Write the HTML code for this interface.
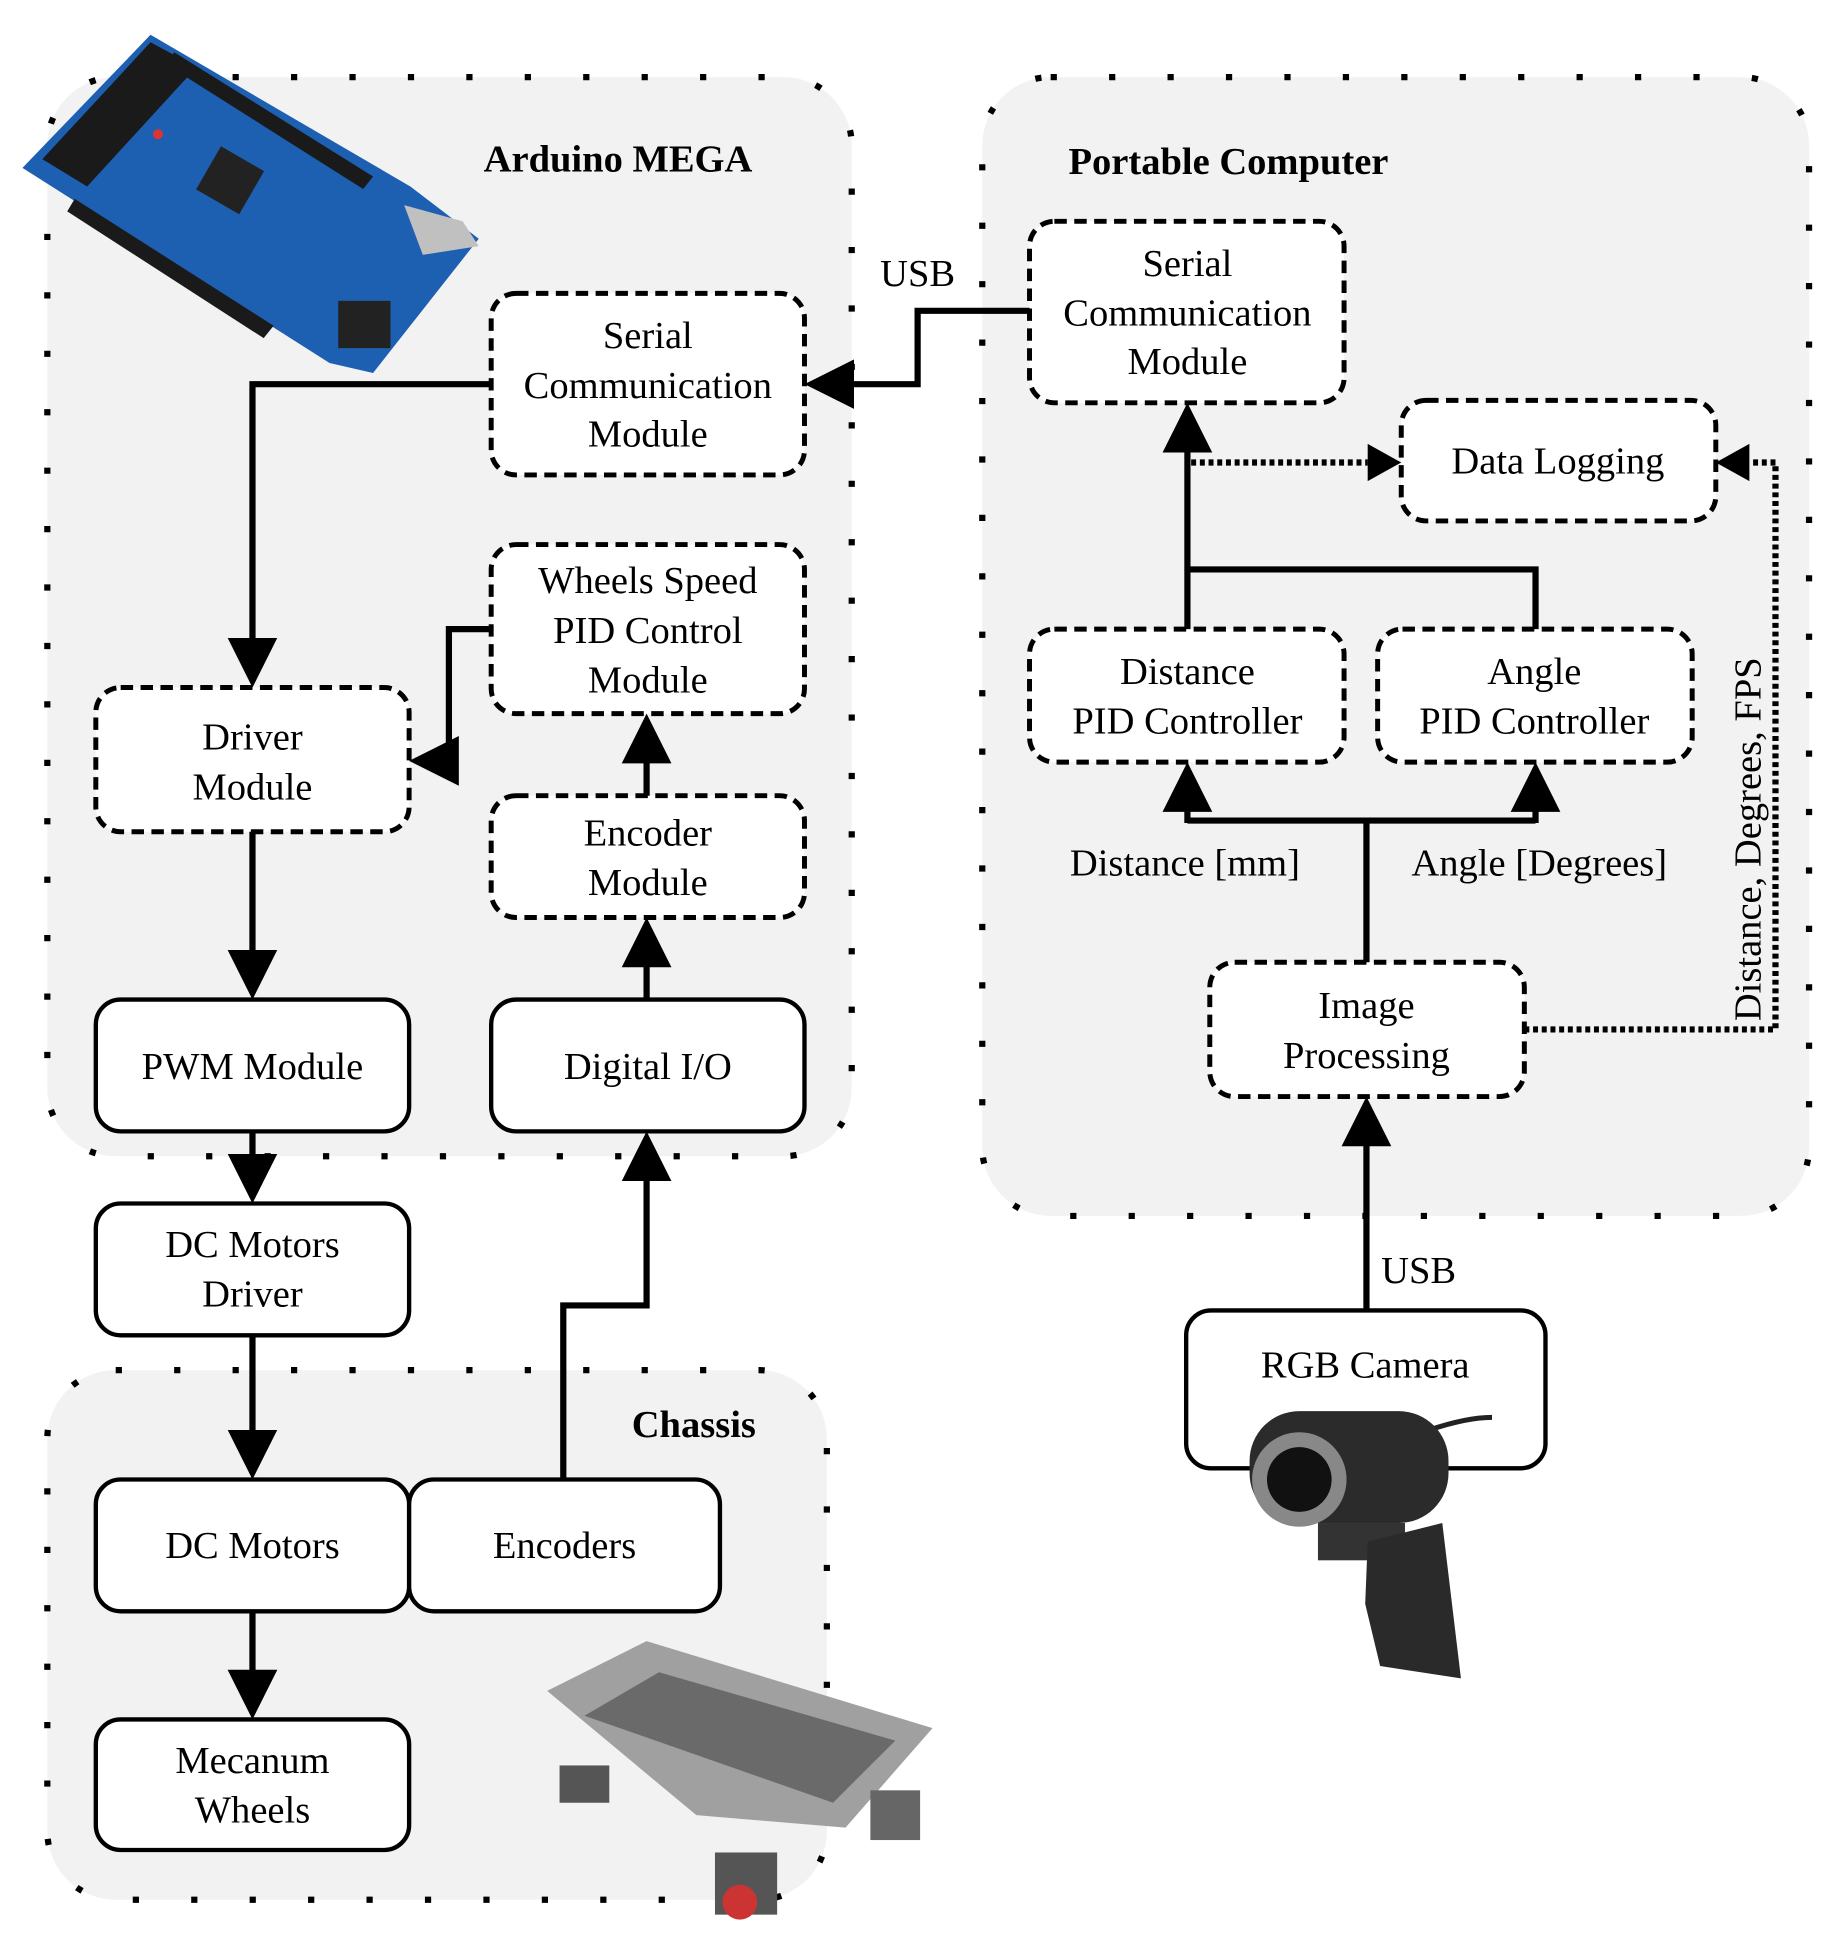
<!DOCTYPE html>
<html><head><meta charset="utf-8"><style>
html,body{margin:0;padding:0;background:#fff;}
svg{display:block;}
text{font-family:"Liberation Serif",serif;font-size:31px;fill:#000;text-anchor:middle;}
.b{font-weight:bold;}
.panel{fill:#f2f2f2;stroke:#000;stroke-width:5;stroke-dasharray:5 42;}
.dash{fill:#fff;stroke:#000;stroke-width:4;stroke-dasharray:10 6;}
.sol{fill:#fff;stroke:#000;stroke-width:3.5;}
.ln{fill:none;stroke:#000;stroke-width:5;}
.dot{fill:none;stroke:#000;stroke-width:5;stroke-dasharray:4 3;}
</style></head><body>
<svg width="1834" height="1942" viewBox="0 0 1475 1562" xmlns="http://www.w3.org/2000/svg">
<defs>
<marker id="a" markerWidth="8" markerHeight="8" refX="7" refY="4" orient="auto" markerUnits="strokeWidth"><path d="M0,0 L8,4 L0,8 z" fill="#000"/></marker>
</defs>
<rect class="panel" x="38" y="62" width="647" height="868" rx="55"/>
<rect class="panel" x="790" y="62" width="665" height="916" rx="55"/>
<rect class="panel" x="38" y="1102" width="627" height="426" rx="55"/>

<!-- arduino board approx -->
<polygon points="18,135 121,28 330,150 385,192 300,300 265,292" fill="#1d5fb0"/>
<polygon points="34,128 121,34 158,54 70,150" fill="#1a1a1a"/>
<polygon points="140,42 300,142 292,152 134,52" fill="#1a1a1a"/>
<polygon points="60,160 220,262 212,272 54,170" fill="#1a1a1a"/>
<rect x="165" y="125" width="40" height="40" fill="#222" transform="rotate(30 185 145)"/>
<polygon points="325,165 372,178 385,198 340,205" fill="#c0c0c0"/>
<rect x="272" y="242" width="42" height="38" fill="#222"/>
<circle cx="127" cy="108" r="4" fill="#d33"/>
<text class="b" x="497" y="138">Arduino MEGA</text>
<text class="b" x="988" y="140">Portable Computer</text>
<text class="b" x="558" y="1156">Chassis</text>

<rect class="dash" x="395" y="236" width="252" height="146" rx="20"/>
<text x="521" y="280">Serial</text><text x="521" y="320">Communication</text><text x="521" y="359">Module</text>
<rect class="dash" x="395" y="438" width="252" height="136" rx="20"/>
<text x="521" y="477">Wheels Speed</text><text x="521" y="517">PID Control</text><text x="521" y="557">Module</text>
<rect class="dash" x="77" y="553" width="252" height="116" rx="20"/>
<text x="203" y="603">Driver</text><text x="203" y="643">Module</text>
<rect class="dash" x="395" y="640" width="252" height="98" rx="20"/>
<text x="521" y="680">Encoder</text><text x="521" y="720">Module</text>
<rect class="sol" x="77" y="804" width="252" height="106" rx="20"/>
<text x="203" y="868">PWM Module</text>
<rect class="sol" x="395" y="804" width="252" height="106" rx="20"/>
<text x="521" y="868">Digital I/O</text>
<rect class="sol" x="77" y="968" width="252" height="106" rx="20"/>
<text x="203" y="1011">DC Motors</text><text x="203" y="1051">Driver</text>
<rect class="sol" x="77" y="1190" width="252" height="106" rx="20"/>
<text x="203" y="1253">DC Motors</text>
<rect class="sol" x="329" y="1190" width="250" height="106" rx="20"/>
<text x="454" y="1253">Encoders</text>
<rect class="sol" x="77" y="1383" width="252" height="105" rx="20"/>
<text x="203" y="1426">Mecanum</text><text x="203" y="1466">Wheels</text>

<!-- robot approx -->
<polygon points="440,1360 520,1320 750,1390 680,1470 560,1460" fill="#a0a0a0"/>
<polygon points="470,1380 530,1345 720,1400 670,1450" fill="#6a6a6a"/>
<rect x="450" y="1420" width="40" height="30" fill="#555"/>
<rect x="575" y="1490" width="50" height="50" fill="#555"/>
<rect x="700" y="1440" width="40" height="40" fill="#666"/>
<circle cx="595" cy="1530" r="14" fill="#c33"/>

<rect class="dash" x="828" y="178" width="253" height="146" rx="20"/>
<text x="955" y="222">Serial</text><text x="955" y="262">Communication</text><text x="955" y="301">Module</text>
<rect class="dash" x="1127" y="322" width="253" height="97" rx="20"/>
<text x="1253" y="381">Data Logging</text>
<rect class="dash" x="828" y="506" width="253" height="107" rx="20"/>
<text x="955" y="550">Distance</text><text x="955" y="590">PID Controller</text>
<rect class="dash" x="1108" y="506" width="253" height="107" rx="20"/>
<text x="1234" y="550">Angle</text><text x="1234" y="590">PID Controller</text>
<rect class="dash" x="973" y="774" width="253" height="108" rx="20"/>
<text x="1099" y="819">Image</text><text x="1099" y="859">Processing</text>
<rect class="sol" x="954" y="1054" width="289" height="127" rx="20"/>
<text x="1098" y="1108">RGB Camera</text>
<path d="M1150,1150 Q1180,1140 1200,1140" stroke="#222" stroke-width="4" fill="none"/>
<rect x="1005" y="1135" width="160" height="90" rx="40" fill="#2b2b2b"/>
<circle cx="1045" cy="1190" r="38" fill="#888"/><circle cx="1045" cy="1190" r="26" fill="#111"/>
<rect x="1060" y="1225" width="70" height="30" fill="#333"/>
<polygon points="1100,1240 1160,1225 1175,1350 1110,1340 1098,1290" fill="#2a2a2a"/>

<text x="738" y="230">USB</text>
<text x="1141" y="1032">USB</text>
<text x="953" y="704">Distance [mm]</text>
<text x="1238" y="704">Angle [Degrees]</text>
<text x="1416" y="675" transform="rotate(-90 1416 675)">Distance, Degrees, FPS</text>

<polyline class="ln" points="828,250 738,250 738,309 652,309" marker-end="url(#a)"/>
<polyline class="ln" points="395,309 203,309 203,548" marker-end="url(#a)"/>
<polyline class="ln" points="395,506 361,506 361,612 334,612" marker-end="url(#a)"/>
<line class="ln" x1="520" y1="640" x2="520" y2="579" marker-end="url(#a)"/>
<line class="ln" x1="520" y1="804" x2="520" y2="743" marker-end="url(#a)"/>
<line class="ln" x1="203" y1="669" x2="203" y2="799" marker-end="url(#a)"/>
<line class="ln" x1="203" y1="910" x2="203" y2="963" marker-end="url(#a)"/>
<line class="ln" x1="203" y1="1074" x2="203" y2="1185" marker-end="url(#a)"/>
<line class="ln" x1="203" y1="1296" x2="203" y2="1378" marker-end="url(#a)"/>
<polyline class="ln" points="453,1190 453,1050 520,1050 520,915" marker-end="url(#a)"/>

<line class="ln" x1="955" y1="506" x2="955" y2="329" marker-end="url(#a)"/>
<polyline class="ln" points="1235,506 1235,458 955,458"/>
<polyline class="ln" points="1099,774 1099,660"/>
<polyline class="ln" points="955,660 1235,660"/>
<line class="ln" x1="955" y1="662" x2="955" y2="618" marker-end="url(#a)"/>
<line class="ln" x1="1235" y1="662" x2="1235" y2="618" marker-end="url(#a)"/>
<line class="ln" x1="1099" y1="1054" x2="1099" y2="887" marker-end="url(#a)"/>
<line class="dot" x1="958" y1="372" x2="1100" y2="372"/>
<polygon points="1100,357 1127,372 1100,387" fill="#000"/>
<polyline class="dot" points="1226,828 1428,828 1428,372 1407,372"/>
<polygon points="1407,357 1380,372 1407,387" fill="#000"/>
</svg>
</body></html>
